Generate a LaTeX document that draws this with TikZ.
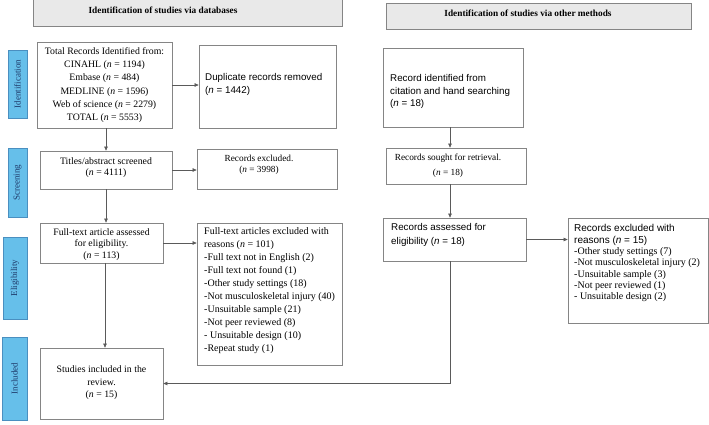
\documentclass[tikz,border=0pt]{standalone}
\usepackage{fontspec}
\setmainfont{Liberation Serif}
\newfontfamily\arialf{Liberation Sans}
\usetikzlibrary{arrows.meta}
\definecolor{boxline}{HTML}{858585}
\definecolor{hdrfill}{HTML}{E9E9E9}
\definecolor{sidefill}{HTML}{66BFEA}
\definecolor{sideline}{HTML}{4A8FC0}
\definecolor{sidetext}{HTML}{1F3A6A}
\definecolor{conn}{HTML}{5A5A5A}
\tikzset{
  box/.style={draw=boxline, line width=0.7pt, inner sep=0pt, fill=white},
  hdr/.style={draw=boxline, line width=0.9pt, fill=hdrfill, inner sep=0pt},
  side/.style={draw=sideline, line width=0.6pt, fill=sidefill, inner sep=0pt},
  sidetxt/.style={rotate=90, text=sidetext, font={\fontsize{9}{10}\selectfont}, inner sep=0pt},
  hdrtxt/.style={font={\fontsize{9.3}{10}\selectfont\bfseries}, inner sep=0pt},
  txt/.style={inner sep=0pt, align=center},
  arr/.style={draw=conn, line width=0.6pt, -{Triangle[length=4pt,width=3.5pt]}},
  ln/.style={draw=conn, line width=0.6pt},
}
\begin{document}
\begin{tikzpicture}[x=1pt,y=-1pt]
\useasboundingbox (0,0) rectangle (709,424);
% headers
\node[hdr, minimum width=309, minimum height=27] (h1) at (187.5,12.5) {};
\node[hdrtxt] (h1t) at (163,10) {Identification of studies via databases};
\node[hdr, minimum width=305, minimum height=26] (h2) at (538.5,16) {};
\node[hdrtxt] (h2t) at (528,13.5) {Identification of studies via other methods};
% side labels
\node[side, minimum width=19, minimum height=68] (s1) at (17.5,84) {};
\node[sidetxt] (s1t) at (s1) {Identification};
\node[side, minimum width=19, minimum height=69] (s2) at (17.5,182.5) {};
\node[sidetxt] (s2t) at (s2) {Screening};
\node[side, minimum width=24, minimum height=82] (s3) at (15,278) {};
\node[sidetxt] (s3t) at (s3) {Eligibility};
\node[side, minimum width=25, minimum height=83] (s4) at (14.5,378.5) {};
\node[sidetxt] (s4t) at (s4) {Included};
% boxes
\node[box, minimum width=135, minimum height=86] (A) at (104.5,85) {};
\node[txt, font={\fontsize{9.8}{13.2}\selectfont}] (At) at (104.5,85) {Total Records Identified from:\\ CINAHL (\textit{n} = 1194)\\ Embase (\textit{n} = 484)\\ MEDLINE (\textit{n} = 1596)\\ Web of science (\textit{n} = 2279)\\ TOTAL (\textit{n} = 5553)};
\node[box, minimum width=137, minimum height=83] (B) at (267.5,86.5) {};
\node[txt, align=left, anchor=west, font={\arialf\fontsize{9.8}{13}\selectfont}] (Bt) at (205,84) {Duplicate records removed\\(\textit{n} = 1442)};
\node[box, minimum width=132, minimum height=38] (C) at (106,170) {};
\node[txt, font={\fontsize{9.8}{11.5}\selectfont}] (Ct) at (106,167.5) {Titles/abstract screened\\(\textit{n} = 4111)};
\node[box, minimum width=140, minimum height=40] (D) at (267,169) {};
\node[txt, font={\fontsize{9.3}{11}\selectfont}] (Dt) at (259,164.5) {Records excluded.\\(\textit{n} = 3998)};
\node[box, minimum width=123, minimum height=40] (E) at (101.5,243) {};
\node[txt, font={\fontsize{9.8}{11.5}\selectfont}] (Et) at (101.5,244.5) {Full-text article assessed\\for eligibility.\\(\textit{n} = 113)};
\node[box, minimum width=145, minimum height=142] (F) at (269.5,294) {};
\node[txt, align=left, anchor=north west, font={\fontsize{10}{13}\selectfont}] (Ft) at (204,227.5) {Full-text articles excluded with\\reasons (\textit{n} = 101)\\-Full text not in English (2)\\-Full text not found (1)\\-Other study settings (18)\\-Not musculoskeletal injury (40)\\-Unsuitable sample (21)\\-Not peer reviewed (8)\\- Unsuitable design (10)\\-Repeat study (1)};
\node[box, minimum width=123, minimum height=71] (G) at (101.5,383.5) {};
\node[txt, font={\fontsize{9.8}{12.5}\selectfont}] (Gt) at (101.5,383) {Studies included in the\\review.\\(\textit{n} = 15)};
\node[box, minimum width=140, minimum height=79] (H) at (453,87.5) {};
\node[txt, align=left, anchor=west, font={\arialf\fontsize{9.8}{12.5}\selectfont}] (Ht) at (390,91.5) {Record identified from\\citation and hand searching\\(\textit{n} = 18)};
\node[box, minimum width=140, minimum height=36] (I) at (456,166) {};
\node[txt, font={\fontsize{9.3}{15}\selectfont}] (It) at (448,165.5) {Records sought for retrieval.\\(\textit{n} = 18)};
\node[box, minimum width=143, minimum height=43] (J) at (454.5,239.5) {};
\node[txt, align=left, anchor=west, font={\arialf\fontsize{9.8}{14}\selectfont}] (Jt) at (391,235) {Records assessed for\\eligibility (\textit{n} = 18)};
\node[box, minimum width=140, minimum height=105] (K) at (638,270.5) {};
\node[txt, align=left, anchor=north west, font={\fontsize{10}{11.3}\selectfont}] (Kt) at (574,224.5) {{\arialf Records excluded with}\\{\arialf reasons (\textit{n} = 15)}\\-Other study settings (7)\\-Not musculoskeletal injury (2)\\-Unsuitable sample (3)\\-Not peer reviewed (1)\\- Unsuitable design (2)};
% connectors
\coordinate (vx) at (450,0);
\draw[arr] (A.south -| C.north) -- (C.north);
\draw[arr] (A.east) -- (A.east -| B.west);
\draw[arr] (C.east) -- (C.east -| D.west);
\draw[arr] (C.south) -- (C.south |- E.north);
\draw[arr] (E.east) -- (E.east -| F.west);
\draw[arr] ([xshift=3.5pt]E.south) -- ([xshift=3.5pt]G.north);
\draw[arr] (vx |- H.south) -- (vx |- I.north);
\draw[arr] (vx |- I.south) -- (vx |- J.north);
\draw[arr] (J.east) -- (J.east -| K.west);
\draw[arr] (vx |- J.south) -- (vx |- G.east) -- (G.east);
\end{tikzpicture}
\end{document}
